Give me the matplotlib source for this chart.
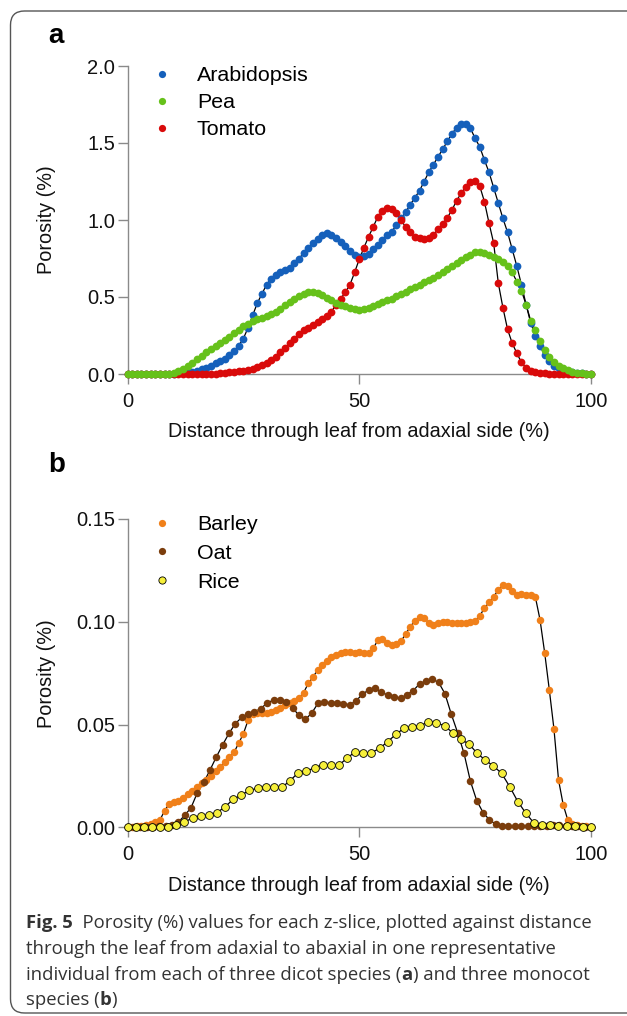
import numpy as np
import matplotlib
matplotlib.use("Agg")
import matplotlib.pyplot as plt
from matplotlib.lines import Line2D
from matplotlib.patches import FancyBboxPatch
from matplotlib.transforms import IdentityTransform
from matplotlib.ticker import FormatStrFormatter

W, H = 627, 1016
plt.rcParams['font.family'] = ['Liberation Sans', 'DejaVu Sans']

# ---- panel a: dicots, one z-slice per 1 % of leaf depth
x_dicot = np.arange(0, 101)
arabidopsis = [
    0.0, 0.0, 0.0, 0.0, 0.0, 0.0, 0.0, 0.0, 0.001, 0.002,
    0.003, 0.004, 0.006, 0.01, 0.015, 0.022, 0.03, 0.042, 0.055, 0.07,
    0.085, 0.10, 0.125, 0.15, 0.185, 0.23, 0.30, 0.38, 0.46, 0.52,
    0.58, 0.62, 0.645, 0.66, 0.675, 0.69, 0.72, 0.75, 0.785, 0.82,
    0.85, 0.875, 0.90, 0.915, 0.905, 0.885, 0.86, 0.83, 0.80, 0.775,
    0.76, 0.765, 0.78, 0.81, 0.84, 0.87, 0.90, 0.925, 0.965, 1.01,
    1.05, 1.10, 1.145, 1.19, 1.25, 1.31, 1.36, 1.41, 1.46, 1.51,
    1.56, 1.60, 1.625, 1.625, 1.595, 1.53, 1.475, 1.39, 1.31, 1.21,
    1.11, 1.01, 0.92, 0.81, 0.70, 0.58, 0.45, 0.33, 0.25, 0.18,
    0.125, 0.085, 0.055, 0.04, 0.025, 0.015, 0.01, 0.006, 0.004, 0.002,
    0.0]
pea = [
    0.0, 0.0, 0.0, 0.0, 0.0, 0.0, 0.0, 0.0, 0.0, 0.002,
    0.008, 0.02, 0.035, 0.052, 0.072, 0.095, 0.118, 0.143, 0.165, 0.185,
    0.203, 0.222, 0.242, 0.265, 0.288, 0.31, 0.327, 0.342, 0.355, 0.365,
    0.375, 0.39, 0.405, 0.425, 0.445, 0.465, 0.485, 0.505, 0.52, 0.533,
    0.535, 0.528, 0.513, 0.495, 0.478, 0.463, 0.45, 0.44, 0.43, 0.423,
    0.418, 0.42, 0.43, 0.44, 0.455, 0.465, 0.478, 0.49, 0.505, 0.52,
    0.535, 0.55, 0.565, 0.58, 0.595, 0.61, 0.625, 0.64, 0.66, 0.68,
    0.70, 0.72, 0.74, 0.76, 0.775, 0.79, 0.792, 0.785, 0.775, 0.762,
    0.745, 0.725, 0.70, 0.66, 0.60, 0.54, 0.45, 0.345, 0.285, 0.215,
    0.155, 0.11, 0.077, 0.055, 0.037, 0.024, 0.015, 0.009, 0.005, 0.002,
    0.0]
tomato = [
    0.0, 0.0, 0.0, 0.0, 0.0, 0.0, 0.0, 0.0, 0.0, 0.0,
    0.0, 0.0, 0.0, 0.0, 0.0, 0.0, 0.001, 0.001, 0.002, 0.003,
    0.005, 0.008, 0.011, 0.014, 0.018, 0.022, 0.026, 0.035, 0.045, 0.057,
    0.07, 0.09, 0.11, 0.14, 0.17, 0.20, 0.23, 0.26, 0.285, 0.30,
    0.315, 0.335, 0.355, 0.375, 0.405, 0.45, 0.49, 0.53, 0.58, 0.66,
    0.745, 0.82, 0.89, 0.955, 1.02, 1.06, 1.075, 1.07, 1.045, 1.0,
    0.955, 0.92, 0.89, 0.88, 0.878, 0.885, 0.905, 0.94, 0.975, 1.015,
    1.065, 1.125, 1.175, 1.215, 1.25, 1.255, 1.22, 1.12, 0.98, 0.85,
    0.59, 0.43, 0.29, 0.20, 0.135, 0.075, 0.04, 0.02, 0.01, 0.006,
    0.004, 0.003, 0.002, 0.001, 0.001, 0.0, 0.0, 0.0, 0.0, 0.0,
    0.0]

# ---- panel b: monocots (different slice counts per leaf)
x_barley = np.arange(0, 101)
barley = [
    0.0, 0.0003, 0.0005, 0.0007, 0.001, 0.0015, 0.0025, 0.0036, 0.008, 0.0115,
    0.0125, 0.0128, 0.0141, 0.016, 0.0178, 0.0197, 0.0215, 0.0232, 0.0252, 0.0275,
    0.0295, 0.0318, 0.034, 0.0365, 0.041, 0.0455, 0.052, 0.0552, 0.0558, 0.0555,
    0.0556, 0.0562, 0.057, 0.0582, 0.0595, 0.0605, 0.0615, 0.063, 0.0655, 0.07,
    0.073, 0.0765, 0.079, 0.081, 0.0828, 0.084, 0.0848, 0.0852, 0.0854, 0.085,
    0.0852, 0.0848, 0.0848, 0.087, 0.091, 0.0918, 0.0895, 0.0885, 0.0893, 0.0905,
    0.094, 0.0976, 0.1005, 0.1025, 0.1018, 0.0995, 0.0985, 0.0992, 0.1, 0.0998,
    0.0995, 0.0993, 0.0992, 0.0995, 0.0998, 0.1005, 0.103, 0.1065, 0.1095, 0.1122,
    0.1155, 0.1178, 0.1175, 0.115, 0.113, 0.1135, 0.1132, 0.113, 0.112, 0.101,
    0.085, 0.067, 0.048, 0.023, 0.011, 0.0035, 0.0015, 0.0011, 0.0008, 0.0005,
    0.0003]
x_oat = np.linspace(0, 100, 74)
oat = [
    0.0, 0.0001, 0.0002, 0.0002, 0.0003, 0.0004, 0.0006, 0.0012, 0.0025, 0.0058,
    0.0095, 0.0168, 0.0218, 0.0279, 0.0343, 0.0402, 0.0458, 0.0505, 0.0535, 0.0552,
    0.0562, 0.0578, 0.0605, 0.0619, 0.0619, 0.0612, 0.0581, 0.0545, 0.0525, 0.0555,
    0.0603, 0.0608, 0.0607, 0.0604, 0.0601, 0.0596, 0.0615, 0.0648, 0.0668, 0.0676,
    0.0658, 0.0642, 0.0634, 0.0628, 0.0645, 0.0665, 0.0698, 0.0712, 0.0721, 0.0705,
    0.065, 0.055, 0.046, 0.036, 0.0225, 0.013, 0.0072, 0.0036, 0.0015, 0.0005,
    0.0004, 0.0004, 0.0004, 0.0004, 0.0004, 0.0005, 0.0008, 0.001, 0.001, 0.0008,
    0.0006, 0.0004, 0.0003, 0.0]
x_rice = np.linspace(0, 100, 58)
rice = [
    0.0, 0.0002, 0.0003, 0.0003, 0.0003, 0.0003, 0.0011, 0.0027, 0.0044, 0.0055,
    0.006, 0.0071, 0.010, 0.0136, 0.0157, 0.018, 0.019, 0.0198, 0.0195, 0.0195,
    0.0227, 0.0266, 0.0272, 0.029, 0.0303, 0.0303, 0.0303, 0.0336, 0.0368, 0.0363,
    0.0363, 0.0384, 0.0417, 0.0452, 0.0482, 0.049, 0.0493, 0.0514, 0.0509, 0.0493,
    0.046, 0.0428, 0.0405, 0.036, 0.0327, 0.0298, 0.0263, 0.0198, 0.0125, 0.0068,
    0.002, 0.001, 0.001, 0.0008, 0.0007, 0.0005, 0.0003, 0.0]

xlabel = 'Distance through leaf from adaxial side (%)'
ylabel = 'Porosity (%)'

C_ARA, C_PEA, C_TOM = '#1560bb', '#66c11a', '#d90a0a'
C_BAR, C_OAT, C_RICE = '#f0801a', '#7b3d0c', '#f6ef3a'
SPINE = '#8a8a8a'


def fx(px):
    return px / W


def fy(py):
    return 1 - py / H


fig = plt.figure(figsize=(W / 100, H / 100), dpi=100)
axa = fig.add_axes([fx(127.5), fy(374), (591 - 127.5) / W, (374 - 66) / H])
axb = fig.add_axes([fx(127.5), fy(827.3), (591 - 127.5) / W, (827.3 - 519) / H])


def series(ax, x, y, color, ms, edge=None, z=3):
    ax.plot(x, y, '-', color='black', lw=0.9, zorder=2, clip_on=False)
    ax.plot(x, y, 'o', ls='none', ms=ms, mfc=color,
            mec=edge if edge else color, mew=0.6 if edge else 0,
            zorder=z, clip_on=False)


series(axa, x_dicot, arabidopsis, C_ARA, 5.6, z=3)
series(axa, x_dicot, tomato, C_TOM, 5.6, z=4)
series(axa, x_dicot, pea, C_PEA, 5.6, z=5)

series(axb, x_barley, barley, C_BAR, 5.4, z=3)
series(axb, x_oat, oat, C_OAT, 5.4, z=4)
series(axb, x_rice, rice, C_RICE, 5.6, edge='black', z=5)


def style(ax, ymax, ystep, fmt):
    ax.set_xlim(0, 100)
    ax.set_ylim(0, ymax)
    ax.set_xticks([0, 50, 100])
    ax.set_yticks(np.arange(0, ymax + ystep / 2, ystep))
    ax.yaxis.set_major_formatter(FormatStrFormatter(fmt))
    for s in ['top', 'right']:
        ax.spines[s].set_visible(False)
    for s in ['left', 'bottom']:
        ax.spines[s].set_color(SPINE)
        ax.spines[s].set_linewidth(1.0)
    ax.tick_params(axis='both', direction='out', length=7, width=1.0,
                   color=SPINE, labelsize=14.5, labelcolor='#111111')
    ax.tick_params(axis='x', pad=6)
    ax.tick_params(axis='y', pad=2)
    ax.set_xlabel(xlabel, fontsize=14.3, va='center', color='#111111')
    ax.set_ylabel(ylabel, fontsize=14.3, va='center', color='#111111')
    ax.xaxis.set_label_coords(0.5, -0.188)
    ax.yaxis.set_label_coords(-0.1743, 0.5)
    ax.patch.set_visible(False)


style(axa, 2.0, 0.5, '%.1f')
style(axb, 0.15, 0.05, '%.2f')


def legend(ax, names, colors, edges, top_px, spacing):
    handles = [Line2D([], [], marker='o', ls='none', ms=5.2, mfc=c,
                      mec=e if e else c, mew=0.6 if e else 0)
               for c, e in zip(colors, edges)]
    ax.legend(handles, names, loc='upper left',
              bbox_to_anchor=(fx(151), fy(top_px)), bbox_transform=fig.transFigure,
              frameon=False, borderpad=0, borderaxespad=0, handlelength=1.0,
              handletextpad=1.15, labelspacing=spacing, fontsize=15.4)


legend(axa, ['Arabidopsis', 'Pea', 'Tomato'], [C_ARA, C_PEA, C_TOM],
       [None, None, None], 66, 0.38)
legend(axb, ['Barley', 'Oat', 'Rice'], [C_BAR, C_OAT, C_RICE],
       [None, None, 'black'], 515, 0.46)

fig.text(fx(48), fy(43), 'a', fontsize=20, fontweight='bold', va='baseline')
fig.text(fx(48), fy(472), 'b', fontsize=20, fontweight='bold', va='baseline')

# rounded frame around the figure (runs off the right edge)
frame = FancyBboxPatch((10.5, H - 1013), 660, 1002,
                       boxstyle='round,pad=0,rounding_size=14',
                       transform=IdentityTransform(), fill=False,
                       ec='#555555', lw=1.0)
fig.add_artist(frame)

# caption with bold pieces
CAP_FONT = ['Open Sans', 'DejaVu Sans']
caption = [
    [('Fig. 5', 'bold'), ('  Porosity (%) values for each z-slice, plotted against distance', 'normal')],
    [('through the leaf from adaxial to abaxial in one representative', 'normal')],
    [('individual from each of three dicot species (', 'normal'), ('a', 'bold'),
     (') and three monocot', 'normal')],
    [('species (', 'normal'), ('b', 'bold'), (')', 'normal')],
]
renderer = fig.canvas.get_renderer()


def rich_line(x, y, parts, size):
    cur = x
    made = []
    for s, w in parts:
        t = fig.text(fx(cur), fy(y), s, fontsize=size, fontweight=w,
                     family=CAP_FONT, va='baseline', ha='left', color='#333333')
        cur += t.get_window_extent(renderer=renderer).width
        made.append(t)
    return cur - x, made


w, tmp = rich_line(26, 928, caption[0], 12)
for t in tmp:
    t.remove()
cap_size = 12 * 561 / w
for parts, y in zip(caption, [928, 954, 980, 1005]):
    rich_line(26, y, parts, cap_size)

fig.savefig('out.png', dpi=100)
